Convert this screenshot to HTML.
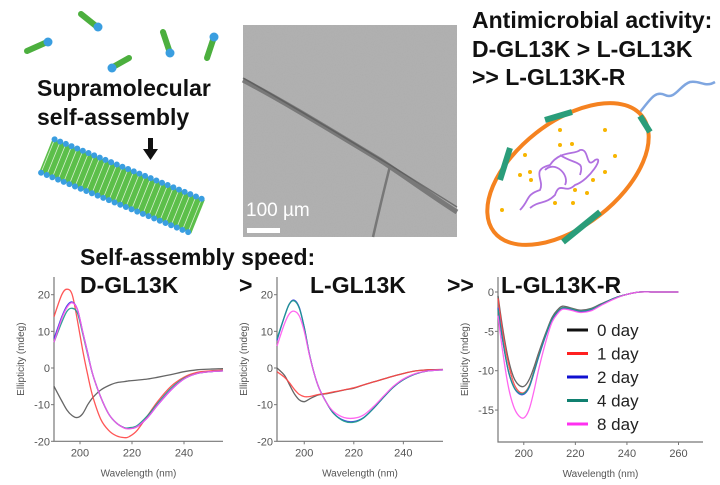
<!DOCTYPE html>
<html><head><meta charset="utf-8"><style>
html,body{margin:0;padding:0;background:#fff;}
svg{display:block;font-family:"Liberation Sans",Arial,sans-serif;}
.h{font-weight:bold;fill:#111;}
.tk{font-size:11px;fill:#555;}
.ti{font-size:10px;fill:#555;}
</style></head><body>
<svg id="root" width="720" height="485" viewBox="0 0 720 485" xmlns="http://www.w3.org/2000/svg">
<defs>
<filter id="noise" x="0" y="0" width="100%" height="100%"><feTurbulence type="fractalNoise" baseFrequency="0.9" numOctaves="2" seed="3"/><feColorMatrix type="matrix" values="0 0 0 0 0.4  0 0 0 0 0.4  0 0 0 0 0.4  0 0 0 0.6 0"/></filter>
</defs>
<!-- monomers -->
<g stroke-linecap="round">
<g stroke="#4caf3e" stroke-width="6"><line x1="27" y1="51" x2="45" y2="43"/><line x1="81" y1="14" x2="96" y2="26"/><line x1="113" y1="67" x2="129" y2="58"/><line x1="163" y1="32" x2="169" y2="50"/><line x1="207" y1="58" x2="213" y2="40"/></g>
<g fill="#3a9ee0"><circle cx="48" cy="42" r="4.5"/><circle cx="98" cy="27" r="4.5"/><circle cx="112" cy="68" r="4.5"/><circle cx="170" cy="53" r="4.5"/><circle cx="214" cy="37" r="4.5"/></g>
</g>
<text class="h" x="37" y="96" font-size="23">Supramolecular</text>
<text class="h" x="37" y="125" font-size="23">self-assembly</text>
<g transform="translate(122,186) rotate(22)">
<rect x="-82" y="-18" width="164" height="36" fill="#5cbf4a"/>
<g id="stripes" stroke="#d8f0d0" stroke-width="0.8"></g>
<g id="beads" fill="#3a9ee0"></g>
</g>
<g><rect x="148" y="138" width="5" height="12" fill="#111"/><polygon points="143,149 158,149 150.5,160" fill="#111"/></g>
<!-- TEM -->
<g>
<rect x="243" y="25" width="214" height="212" fill="#b2b2b2"/>
<rect x="243" y="25" width="214" height="212" filter="url(#noise)"/>
<path d="M243,80 C290,105 330,130 380,160 C410,180 435,198 457,212" stroke="#6b6b6b" stroke-width="5" fill="none" opacity="0.8"/>
<path d="M243,78 C300,110 340,135 390,165 L457,207" stroke="#555" stroke-width="1.5" fill="none" opacity="0.7"/>
<path d="M390,166 C384,190 378,215 373,237" stroke="#777" stroke-width="2.5" fill="none"/>
<text x="246" y="216" font-size="19" fill="#fff">100 µm</text>
<rect x="247" y="228" width="33" height="5" fill="#fff"/>
</g>
<!-- antimicrobial -->
<text class="h" x="472" y="28" font-size="23">Antimicrobial activity:</text>
<text class="h" x="472" y="57" font-size="23">D-GL13K &gt; L-GL13K</text>
<text class="h" x="472" y="85" font-size="23">&gt;&gt; L-GL13K-R</text>
<g>
<path d="M640,112 C650,100 655,90 665,95 C675,100 680,85 690,82 C700,80 705,88 715,82" stroke="#7fa6e0" stroke-width="2.5" fill="none"/>
<ellipse cx="568" cy="174" rx="94" ry="52" transform="rotate(-38 568 174)" fill="none" stroke="#f58220" stroke-width="4"/>
<g stroke="#2a9d7a" stroke-width="6" stroke-linecap="butt" fill="none">
<path d="M545,120 L572,112"/><path d="M640,116 L650,132"/><path d="M510,148 L500,180"/><path d="M600,212 L563,242"/>
</g>
<path d="M520,210 C530,200 525,195 540,190 C545,180 530,170 550,165 C560,150 575,155 580,150 C590,148 585,170 595,160 C605,155 590,180 575,185 C565,195 560,180 555,195 C545,205 540,200 530,208 M545,170 C555,160 570,175 565,185 M560,155 C575,165 585,160 580,175" stroke="#b070e0" stroke-width="1.8" fill="none"/>
<g fill="#f7b500"><circle cx="560" cy="130" r="2"/><circle cx="605" cy="130" r="2"/><circle cx="560" cy="145" r="2"/><circle cx="572" cy="144" r="2"/><circle cx="525" cy="155" r="2"/><circle cx="615" cy="156" r="2"/><circle cx="520" cy="175" r="2"/><circle cx="530" cy="172" r="2"/><circle cx="531" cy="180" r="2"/><circle cx="605" cy="172" r="2"/><circle cx="593" cy="180" r="2"/><circle cx="575" cy="190" r="2"/><circle cx="587" cy="193" r="2"/><circle cx="555" cy="203" r="2"/><circle cx="573" cy="203" r="2"/><circle cx="502" cy="210" r="2"/></g>
</g>
<!-- chart headers -->
<text class="h" x="80" y="265" font-size="23">Self-assembly speed:</text>
<text class="h" x="80" y="293" font-size="23">D-GL13K</text>
<text class="h" x="239" y="293" font-size="23">&gt;</text>
<text class="h" x="310" y="293" font-size="23">L-GL13K</text>
<text class="h" x="447" y="293" font-size="23">&gt;&gt;</text>
<text class="h" x="501" y="293" font-size="23">L-GL13K-R</text>
<g id="charts"></g>
<g id="legend"></g>
</svg>
<script>
// chart data
const seriesNames = ["0 day","1 day","2 day","4 day","8 day"];
const seriesColors = ["#555555","#ff4444","#3a3ae0","#1a9a8a","#ff55ee"];
const wl1 = [190,193,195,197,199,201,203,205,208,211,214,217,219,222,226,230,235,240,245,250,255];
const d0 = [-5,-9,-11.5,-13,-13.5,-12.5,-10,-8,-6,-4.8,-4,-3.7,-3.5,-3.3,-3,-2.5,-1.8,-1,-0.5,-0.3,-0.2];
const d1 = [14,20,21.5,20,13,5,-2,-8,-14,-17,-18.5,-19,-18.7,-17,-13,-9,-5,-2.5,-1.2,-0.8,-0.6];
const d2 = [8,14,17,18,16,10,4,-2,-8,-12.5,-15,-16.3,-16.5,-16,-13.5,-10,-6,-3,-1.5,-1,-0.8];
const d4 = [7,12.5,15.5,16.3,15,9.5,3.5,-2,-8,-12.5,-15,-16.3,-16.3,-15.7,-13,-9.5,-5.5,-2.8,-1.5,-1,-0.8];
const d8 = [7,13.5,16.5,17.8,16,10,3.8,-2,-8,-12.5,-15,-16.4,-16.6,-16,-13.5,-10,-6,-3,-1.5,-1,-0.8];
const wl2 = [189,192,194,196,198,200,202,204,206,209,212,216,220,224,228,232,236,240,245,250,256];
const l0 = [0,-2,-4.5,-7,-8.7,-9.2,-8.5,-7.8,-7.3,-7,-6.6,-6,-5.5,-4.6,-3.8,-3,-2.2,-1.5,-0.8,-0.5,-0.4];
const l1 = [-1,-2.5,-4,-5.8,-7.2,-7.8,-7.8,-7.5,-7.2,-6.9,-6.5,-6,-5.4,-4.6,-3.8,-3,-2.2,-1.5,-0.8,-0.5,-0.4];
const l2 = [7.5,14,17.5,18.5,16.5,11,4,-1.5,-5.5,-9.5,-12.5,-14.3,-14.6,-13.5,-11,-8,-5.2,-3.2,-1.6,-0.8,-0.5];
const l4 = [8,14,17.5,18.3,16.3,11,4,-1.5,-5.5,-9.5,-12.5,-14.5,-14.8,-13.6,-11,-8,-5.2,-3.2,-1.6,-0.8,-0.5];
const l8 = [6,12,14.8,15.5,14.2,10,3.8,-1.5,-5.5,-9.5,-12,-13.5,-13.7,-12.8,-10.5,-7.7,-5,-3,-1.5,-0.8,-0.5];
const wl3 = [190,192,194,196,198,200,202,204,206,209,211,213,215,218,222,226,230,235,240,245,250,255,260];
const r0 = [-0.5,-5,-8.5,-10.8,-11.8,-12,-11.2,-9.5,-7.5,-4.8,-3.2,-2.3,-1.8,-2,-2.3,-2.1,-1.5,-0.8,-0.3,0,0,0,0];
const r1 = [-0.8,-5.5,-9,-11.5,-12.6,-12.8,-12,-10,-7.8,-5,-3.4,-2.5,-2,-2.1,-2.4,-2.2,-1.6,-0.8,-0.3,0,0,0,0];
const r2 = [-2,-6.5,-10,-12,-12.9,-13,-12.2,-10.2,-8,-5.1,-3.5,-2.6,-2.1,-2.2,-2.5,-2.3,-1.6,-0.8,-0.3,0,0,0,0];
const r4 = [-2.2,-6.5,-10,-12,-12.8,-12.9,-12.1,-10.1,-7.9,-5,-3.4,-2.5,-2,-2.1,-2.4,-2.2,-1.6,-0.8,-0.3,0,0,0,0];
const r8 = [-3,-8,-12,-14.5,-15.7,-16,-15,-12.5,-9.5,-5.8,-3.8,-2.8,-2.2,-2.3,-2.6,-2.4,-1.7,-0.9,-0.3,0,0,0,0];
const yTicks1 = [20,10,0,-10,-20];
const yTicks3 = [0,-5,-10,-15];
const xTicks1 = [200,220,240];
const xTicks3 = [200,220,240,260];

const NS="http://www.w3.org/2000/svg";
function mk(tag,attrs,parent){const e=document.createElementNS(NS,tag);for(const k in attrs)e.setAttribute(k,attrs[k]);parent.appendChild(e);return e;}
function smooth(pts){let d="M"+pts[0][0].toFixed(1)+","+pts[0][1].toFixed(1);
 for(let i=0;i<pts.length-1;i++){const p0=pts[i-1]||pts[i],p1=pts[i],p2=pts[i+1],p3=pts[i+2]||p2;
 const c1=[p1[0]+(p2[0]-p0[0])/6,p1[1]+(p2[1]-p0[1])/6],c2=[p2[0]-(p3[0]-p1[0])/6,p2[1]-(p3[1]-p1[1])/6];
 d+=" C"+c1[0].toFixed(1)+","+c1[1].toFixed(1)+" "+c2[0].toFixed(1)+","+c2[1].toFixed(1)+" "+p2[0].toFixed(1)+","+p2[1].toFixed(1);}
 return d;}
const root=document.getElementById('charts');
function chart(cfg){
 const g=mk('g',{},root);
 
 
 const X=v=>cfg.x0+(v-cfg.xmin)/(cfg.xmax-cfg.xmin)*(cfg.x1-cfg.x0);
 const Y=v=>cfg.y0+(cfg.ymax-v)/(cfg.ymax-cfg.ymin)*(cfg.y1-cfg.y0);
 const ax=mk('path',{d:`M${cfg.x0},${cfg.ytop} L${cfg.x0},${cfg.y1} L${cfg.x1},${cfg.y1}`,stroke:'#777','stroke-width':1.2,fill:'none'},g);
 
 
 cfg.yt.forEach(t=>{mk('line',{x1:cfg.x0-3,x2:cfg.x0,y1:Y(t),y2:Y(t),stroke:'#777'},g);
  const tx=mk('text',{x:cfg.x0-4,y:Y(t)+4,'text-anchor':'end',class:'tk'},g);tx.textContent=t;
  
  });
 cfg.xt.forEach(t=>{mk('line',{x1:X(t),x2:X(t),y1:cfg.y1,y2:cfg.y1+3,stroke:'#777'},g);
  const tx=mk('text',{x:X(t),y:cfg.y1+15,'text-anchor':'middle',class:'tk'},g);tx.textContent=t;
  
  });
 const yt=mk('text',{x:0,y:0,transform:`translate(${cfg.x0-30},${(cfg.ytop+cfg.y1)/2}) rotate(-90)`,'text-anchor':'middle',class:'ti'},g);
 yt.textContent='Ellipticity (mdeg)';
 
 
 const xt=mk('text',{x:(cfg.x0+cfg.x1)/2,y:cfg.y1+35,'text-anchor':'middle',class:'ti','font-size':11},g);
 xt.textContent='Wavelength (nm)';
 
 
 cfg.series.forEach((s,i)=>{const p=mk('path',{d:smooth(cfg.wl.map((w,j)=>[X(w),Y(s[j])])),stroke:seriesColors[i],'stroke-width':1.3,fill:'none',opacity:0.9},g);
  
  });
}
chart({name:'d-gl13k-cd-chart',x0:54,x1:223,xmin:190,xmax:255,y0:294.7,y1:441.3,ymax:20,ymin:-20,ytop:277,yt:yTicks1,xt:xTicks1,wl:wl1,series:[d0,d1,d2,d4,d8]});
chart({name:'l-gl13k-cd-chart',x0:277,x1:443,xmin:189,xmax:256,y0:294.7,y1:441.3,ymax:20,ymin:-20,ytop:277,yt:yTicks1,xt:xTicks1,wl:wl2,series:[l0,l1,l2,l4,l8]});
chart({name:'l-gl13k-r-cd-chart',x0:498,x1:703,xmin:190,xmax:269.5,y0:292,y1:442,ymax:0,ymin:-19.06,ytop:277,yt:yTicks3,xt:xTicks3,wl:wl3,series:[r0,r1,r2,r4,r8]});
// legend
const lg=document.getElementById('legend');
const lc=["#111","#ff2020","#1010d0","#108070","#ff30f0"];
seriesNames.forEach((n,i)=>{const y=330+i*23.5;
 const l=mk('line',{x1:567,x2:588,y1:y,y2:y,stroke:lc[i],'stroke-width':3},lg);
 
 
 const t=mk('text',{x:597,y:y+6,'font-size':17,fill:'#222'},lg);t.textContent=n;
 
 });
// fiber stripes and beads
const st=document.getElementById('stripes'),bd=document.getElementById('beads');
for(let i=0;i<27;i++){const x=-80+i*6.1;mk('line',{x1:x,x2:x,y1:-16,y2:16},st);mk('circle',{cx:x,cy:-18,r:3},bd);mk('circle',{cx:x,cy:18,r:3},bd);}
</script>
</body></html>
